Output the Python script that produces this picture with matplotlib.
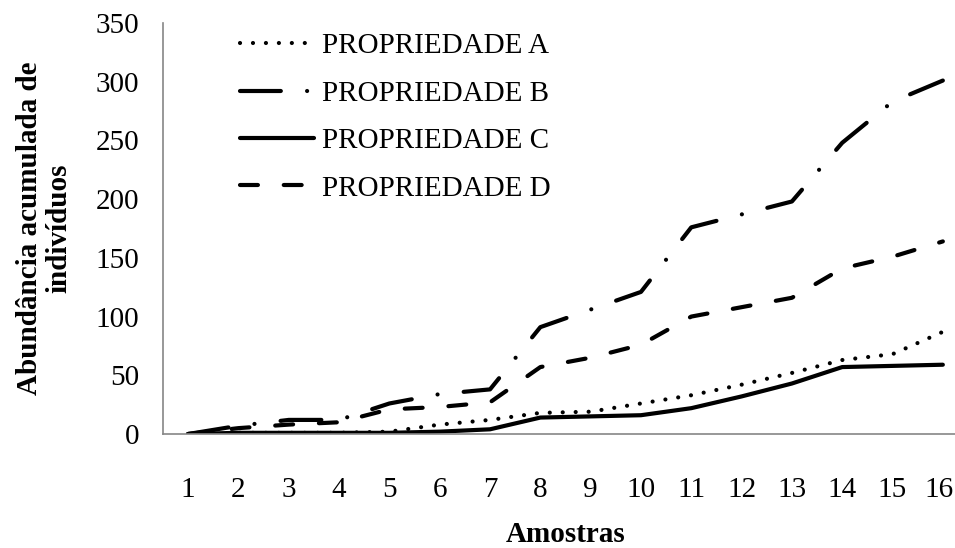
import matplotlib
matplotlib.use('Agg')
import matplotlib.pyplot as plt
from matplotlib.transforms import ScaledTranslation

# valores
amostras = list(range(1, 17))
prop_a = [0, 1, 1, 1, 2, 8, 12, 18, 19, 26, 33, 42, 52, 63, 68, 87]
prop_b = [0, 7, 12, 12, 26, 34, 38, 91, 106, 121, 176, 187, 198, 248, 283, 301]
prop_c = [0, 1, 1, 1, 1, 2, 4, 14, 15, 16, 22, 32, 43, 57, 58, 59]
prop_d = [0, 5, 8, 10, 21, 23, 27, 57, 65, 76, 100, 108, 116, 141, 151, 164]
nomes = ['PROPRIEDADE A', 'PROPRIEDADE B', 'PROPRIEDADE C', 'PROPRIEDADE D']
y_ticks = [0, 50, 100, 150, 200, 250, 300, 350]

plt.rcParams['font.family'] = ['Liberation Serif', 'DejaVu Serif']
FS = 21

fig = plt.figure(figsize=(9.55, 5.48), dpi=100)
# area do grafico em pixels: x 163..968, y 23..434
ax = fig.add_axes([163 / 955, 1 - 434 / 548, 805 / 955, 411 / 548])

lw = 3.0
estilos = [
    (0, (0.01, 3.1)),              # pontilhado
    (0, (9.8, 6.3, 0.01, 6.3)),    # traco-ponto
    'solid',
    (0, (4.3, 6.2)),               # tracejado
]
for serie, nome, ls in zip([prop_a, prop_b, prop_c, prop_d], nomes, estilos):
    ax.plot(amostras, serie, color='black', lw=lw, linestyle=ls, label=nome,
            dash_capstyle='round', solid_capstyle='round',
            solid_joinstyle='round', dash_joinstyle='round')

ax.set_xlim(0.5, 16.5)
ax.set_ylim(0, 350)
ax.set_xticks(amostras)
ax.set_yticks(y_ticks)
ax.tick_params(axis='both', length=0, labelsize=FS)
ax.tick_params(axis='x', pad=31)
ax.tick_params(axis='y', pad=17)
# o ultimo rotulo fica encostado na borda, puxa um pouco para dentro
ult = ax.get_xticklabels()[-1]
ult.set_transform(ult.get_transform() + ScaledTranslation(-0.04, 0, fig.dpi_scale_trans))

for s in ['top', 'right']:
    ax.spines[s].set_visible(False)
for s in ['left', 'bottom']:
    ax.spines[s].set_color('#868686')
    ax.spines[s].set_linewidth(1.2)

ax.set_xlabel('Amostras', fontsize=FS, fontweight='bold', labelpad=13)
ax.set_ylabel('Abundância acumulada de\nindivíduos', fontsize=FS,
              fontweight='bold', labelpad=17, linespacing=1.1)

leg = ax.legend(loc='upper left', bbox_to_anchor=(240 / 955, 1 - 33 / 548),
                bbox_transform=fig.transFigure, frameon=False, fontsize=FS,
                handlelength=2.55, handletextpad=0.25, labelspacing=0.72,
                borderpad=0, borderaxespad=0)

fig.savefig('out.png', dpi=100)
